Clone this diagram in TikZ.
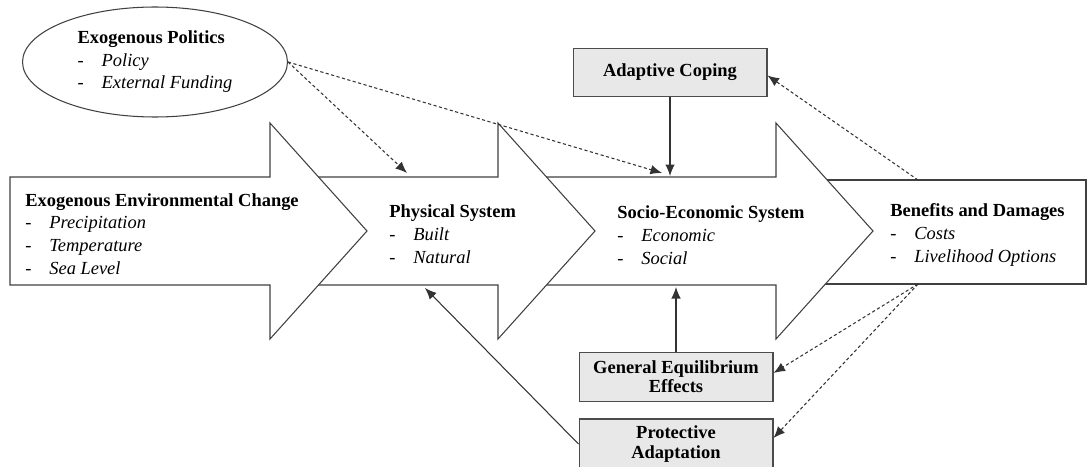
\documentclass[tikz,border=0pt]{standalone}
\usepackage{fontspec}
\setmainfont{Liberation Serif}
\usetikzlibrary{arrows.meta,shapes.geometric}
\newcommand{\itm}[1]{\makebox[0.48cm][l]{-}\textit{#1}}
\tikzset{
  bigarrow/.style={draw=black!75, fill=white, line width=0.6pt},
  labeltext/.style={anchor=west, align=left, inner sep=0pt, font=\fontsize{10.5}{13}\selectfont},
  greybox/.style={draw=black!70, fill=black!9, line width=0.6pt, minimum width=3.88cm, minimum height=0.97cm, align=center, font=\fontsize{10.5}{11}\selectfont\bfseries},
  solidlink/.style={draw=black!80, line width=0.6pt, -{Latex[length=2.3mm,width=1.9mm]}},
  dashlink/.style={solidlink, dash pattern=on 1.8pt off 1.4pt},
}
\begin{document}
\begin{tikzpicture}[x=0.02cm, y=-0.02cm]
	\useasboundingbox (0,0) rectangle (1087,466);
	\clip (0,0) rectangle (1087,466);
	% big arrows, back to front
	\draw[bigarrow] (820,180) rectangle (1086,284);
	\draw[bigarrow] (540,177) -- (776,177) -- (776,123) -- (873,231) -- (776,339) -- (776,285) -- (540,285) -- cycle;
	\draw[bigarrow] (300,177) -- (498,177) -- (498,123) -- (595,231) -- (498,339) -- (498,285) -- (300,285) -- cycle;
	\draw[bigarrow] (10,177) -- (270,177) -- (270,123) -- (367,231) -- (270,339) -- (270,285) -- (10,285) -- cycle;
	% texts in the arrows
	\node[labeltext] (envtext) at (25,234) {\textbf{Exogenous Environmental Change}\\\itm{Precipitation}\\\itm{Temperature}\\\itm{Sea Level}};
	\node[labeltext] (phystext) at (389,234) {\textbf{Physical System}\\\itm{Built}\\\itm{Natural}};
	\node[labeltext] (socitext) at (617,235) {\textbf{Socio-Economic System}\\\itm{Economic}\\\itm{Social}};
	\node[labeltext] (benetext) at (890,235) {\textbf{Benefits and Damages}\\\itm{Costs}\\\itm{Livelihood Options}};
	% outside influences
	\node[ellipse, draw=black!75, line width=0.6pt, minimum width=5.3cm, minimum height=2.2cm, inner sep=0pt, align=left, font=\fontsize{10.5}{12.8}\selectfont] (politics) at (155,62) {\textbf{Exogenous Politics}\\\itm{Policy}\\\itm{External Funding}};
	\node[greybox] (coping) at (670,72.5) {Adaptive Coping};
	\node[greybox] (equil) at (676,377) {General Equilibrium\\Effects};
	\node[greybox, minimum height=1cm] (protect) at (676,444) {Protective\\Adaptation};
	% ends on the arrows
	\coordinate (physin) at (407,173);
	\coordinate (socin) at (662,173);
	\coordinate (copein) at (670,176);
	\coordinate (physbot) at (425,288);
	\coordinate (socbot) at (676,287);
	\coordinate (bentop) at (918,180);
	\coordinate (benbot) at (918,284);
	% links
	\draw[dashlink] (politics.east) -- (physin);
	\draw[dashlink] (politics.east) -- (socin);
	\draw[solidlink] (coping.south) -- (copein);
	\draw[dashlink] (bentop) -- ([yshift=-0.06cm]coping.east);
	\draw[solidlink] (equil.north) -- (socbot);
	\draw[solidlink] (protect.west) -- (physbot);
	\draw[dashlink] (benbot) -- ([yshift=0.08cm]equil.east);
	\draw[dashlink] (benbot) -- ([yshift=0.12cm]protect.east);
\end{tikzpicture}
\end{document}
